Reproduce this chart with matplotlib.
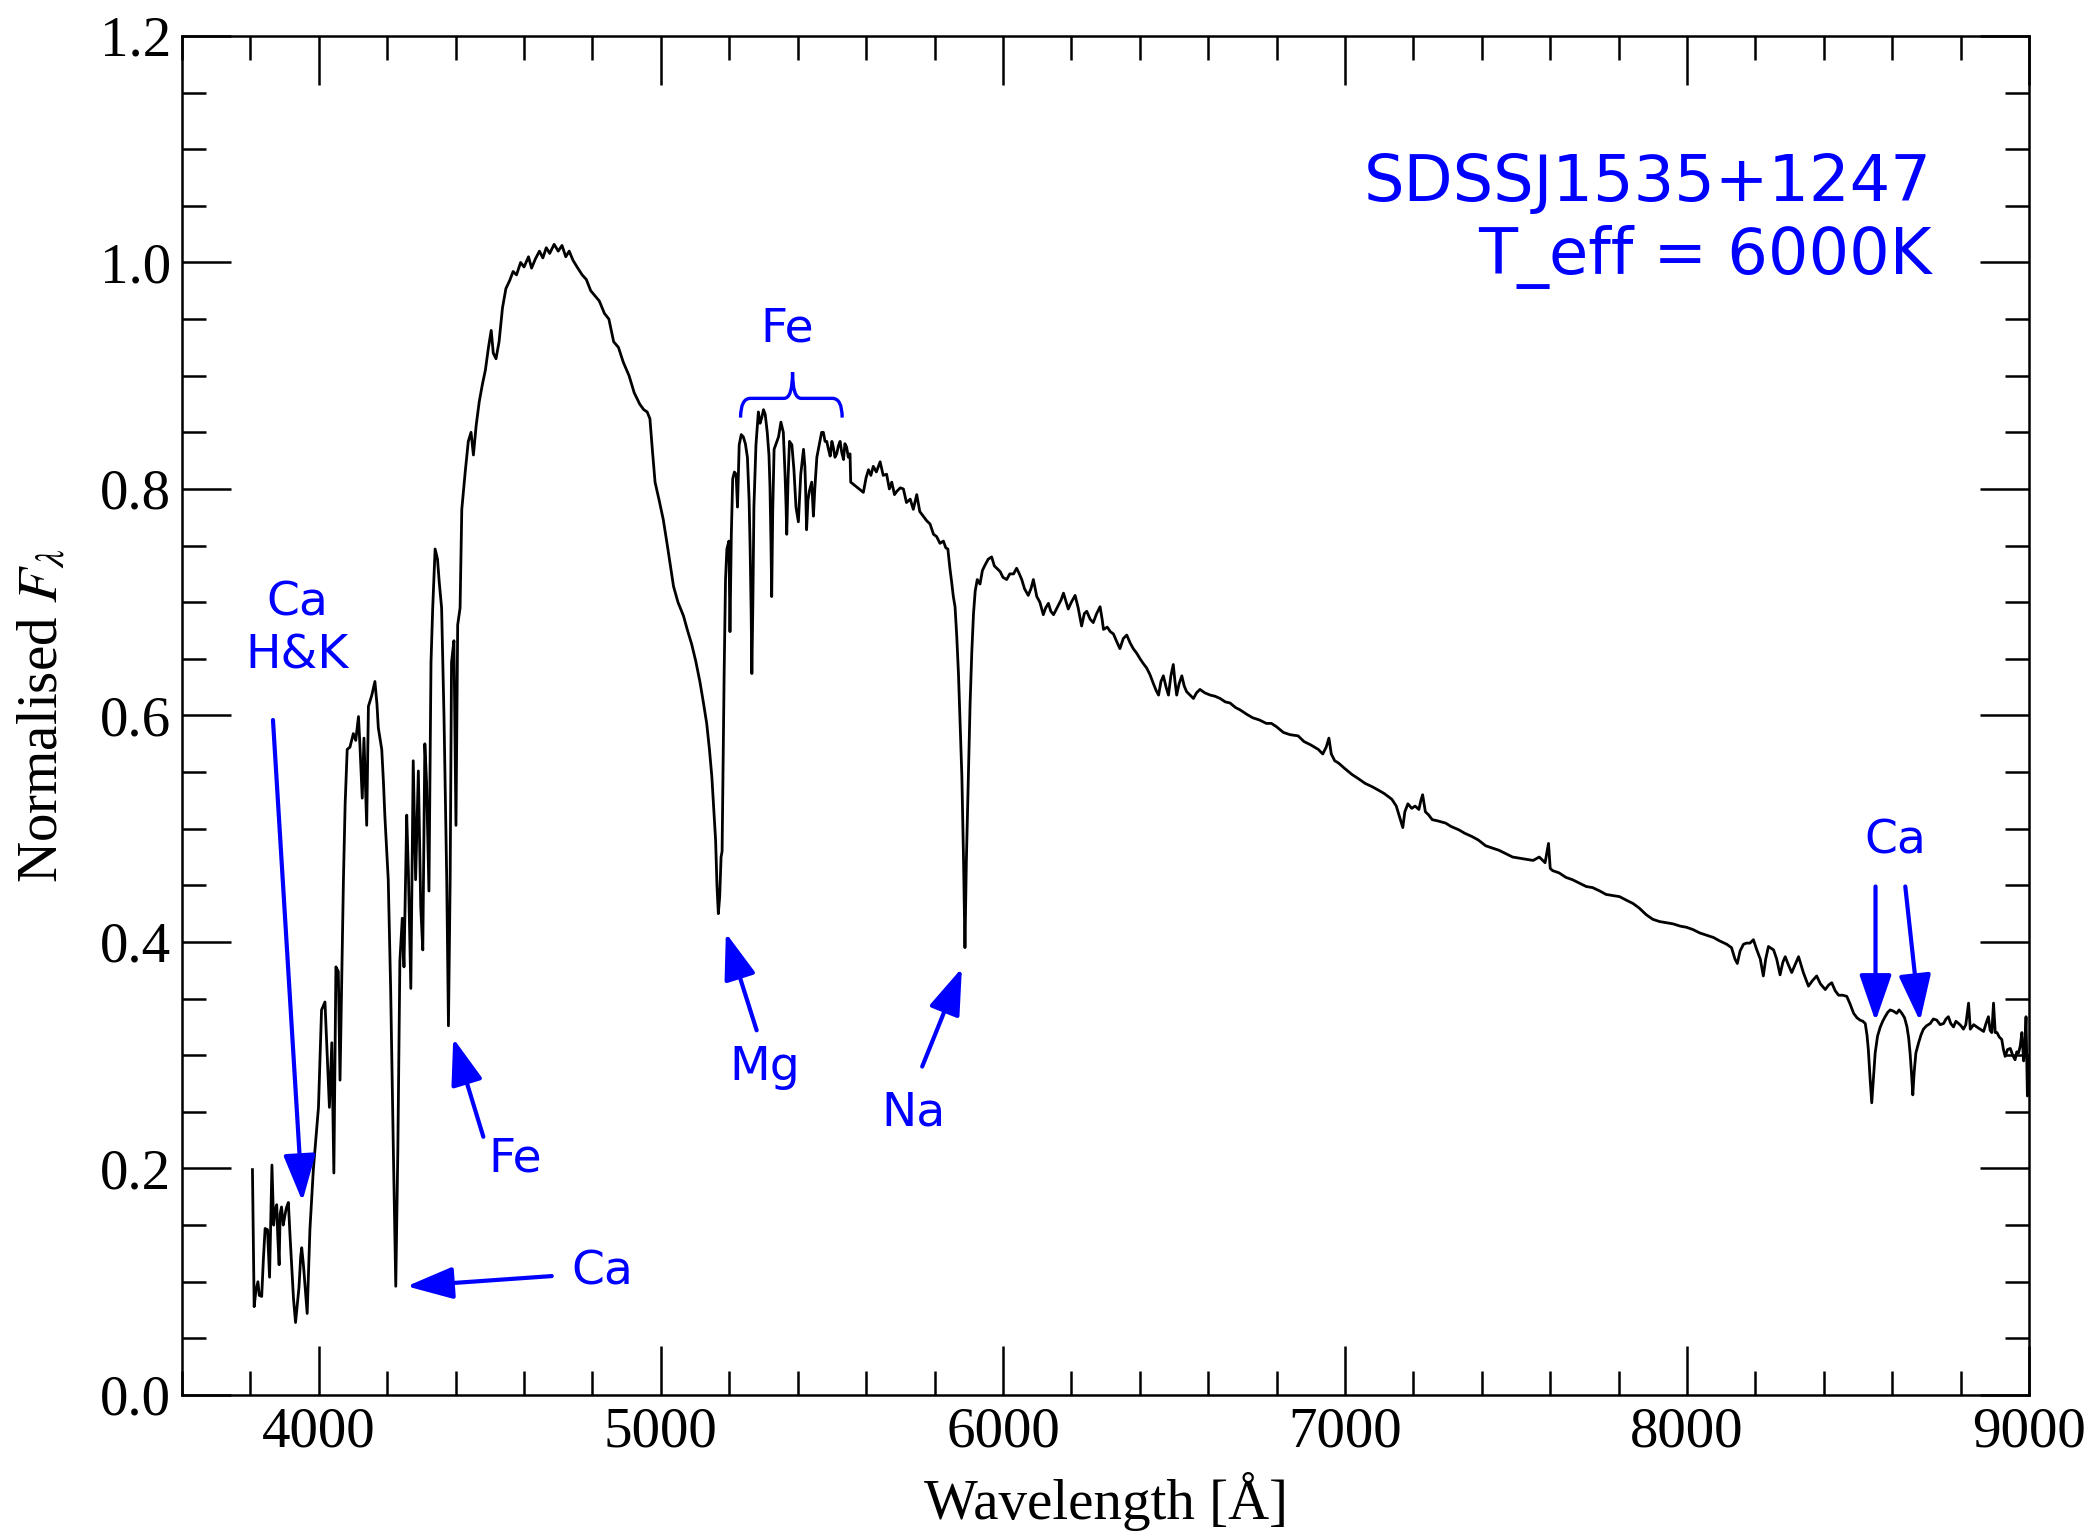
import numpy as np
import matplotlib
matplotlib.use("Agg")
import matplotlib.pyplot as plt
from matplotlib.path import Path
from matplotlib.patches import PathPatch
from matplotlib.ticker import MultipleLocator

plt.rcParams['mathtext.fontset'] = 'stix'

# spectrum: wavelength [A], normalised flux
wave = [3806, 3811, 3816, 3822, 3826, 3833, 3838, 3843, 3850, 3856, 3863, 3868, 3872, 3877, 3880,
        3884, 3887, 3891, 3896, 3900, 3905, 3911, 3916, 3921, 3926, 3932, 3937, 3942, 3947, 3950,
        3955, 3959, 3966, 3970, 3974, 3984, 3999, 4008, 4018, 4025, 4031, 4038, 4044, 4050, 4057,
        4062, 4067, 4072, 4077, 4083, 4091, 4101, 4108, 4116, 4120, 4127, 4132, 4140, 4145, 4155,
        4164, 4170, 4174, 4184, 4189, 4193, 4203, 4210, 4218, 4225, 4231, 4237, 4244, 4249, 4257,
        4262, 4269, 4276, 4283, 4291, 4298, 4304, 4310, 4315, 4322, 4328, 4333, 4340, 4347, 4352,
        4359, 4366, 4374, 4379, 4384, 4388, 4395, 4401, 4406, 4413, 4418, 4428, 4437, 4445, 4452,
        4460, 4469, 4478, 4487, 4496, 4504, 4510, 4518, 4527, 4537, 4547, 4558, 4568, 4578, 4590,
        4600, 4613, 4622, 4633, 4645, 4655, 4665, 4675, 4688, 4700, 4711, 4722, 4732, 4743, 4755,
        4770, 4782, 4795, 4809, 4820, 4835, 4848, 4862, 4876, 4890, 4907, 4922, 4938, 4950, 4960,
        4968, 4975, 4983, 4995, 5007, 5020, 5037, 5050, 5066, 5078, 5090, 5102, 5114, 5124, 5134,
        5142, 5149, 5155, 5160, 5164, 5168, 5172, 5176, 5179, 5182, 5185, 5189, 5193, 5199, 5202,
        5206, 5210, 5215, 5220, 5224, 5229, 5235, 5241, 5247, 5253, 5258, 5261, 5264, 5266, 5269,
        5272, 5278, 5285, 5290, 5295, 5300, 5305, 5311, 5316, 5319, 5322, 5324, 5327, 5331, 5337,
        5344, 5351, 5358, 5363, 5366, 5368, 5372, 5376, 5383, 5389, 5395, 5402, 5409, 5417, 5421,
        5423, 5426, 5430, 5434, 5441, 5446, 5450, 5456, 5465, 5470, 5475, 5480, 5485, 5490, 5495,
        5500, 5504, 5509, 5514, 5519, 5524, 5529, 5534, 5538, 5543, 5548, 5553, 5555, 5592, 5600,
        5607, 5614, 5621, 5630, 5641, 5650, 5660, 5668, 5675, 5683, 5690, 5700, 5709, 5718, 5729,
        5738, 5748, 5757, 5767, 5777, 5787, 5797, 5806, 5816, 5826, 5833, 5839, 5845, 5850, 5855,
        5860, 5865, 5870, 5875, 5880, 5885, 5889, 5893, 5899, 5904, 5909, 5914, 5919, 5925, 5933,
        5940, 5948, 5957, 5967, 5975, 5982, 5992, 6000, 6011, 6020, 6031, 6040, 6048, 6055, 6063,
        6074, 6082, 6089, 6099, 6108, 6118, 6125, 6133, 6140, 6148, 6160, 6170, 6177, 6185, 6191,
        6200, 6211, 6220, 6230, 6238, 6245, 6255, 6264, 6274, 6284, 6290, 6294, 6305, 6314, 6323,
        6333, 6342, 6352, 6362, 6372, 6381, 6391, 6401, 6410, 6420, 6430, 6440, 6448, 6455, 6462,
        6469, 6477, 6484, 6491, 6498, 6503, 6508, 6515, 6523, 6530, 6537, 6547, 6557, 6566, 6576,
        6590, 6606, 6620, 6635, 6650, 6664, 6680, 6693, 6713, 6730, 6750, 6770, 6785, 6800, 6820,
        6840, 6863, 6880, 6900, 6922, 6935, 6945, 6953, 6960, 6970, 6981, 7000, 7020, 7040, 7059,
        7080, 7098, 7115, 7137, 7150, 7160, 7169, 7175, 7184, 7195, 7205, 7216, 7222, 7227, 7235,
        7245, 7255, 7270, 7294, 7310, 7333, 7350, 7372, 7390, 7411, 7430, 7450, 7470, 7490, 7510,
        7529, 7550, 7568, 7585, 7595, 7600, 7607, 7626, 7646, 7665, 7685, 7705, 7724, 7745, 7763,
        7783, 7803, 7822, 7842, 7860, 7881, 7900, 7920, 7940, 7959, 7980, 7998, 8017, 8037, 8057,
        8077, 8095, 8116, 8130, 8140, 8147, 8155, 8165, 8174, 8184, 8194, 8204, 8214, 8223, 8230,
        8238, 8253, 8262, 8272, 8280, 8287, 8296, 8306, 8316, 8326, 8340, 8355, 8367, 8379, 8390,
        8404, 8414, 8423, 8433, 8443, 8455, 8467, 8477, 8487, 8497, 8506, 8514, 8521, 8526, 8530,
        8535, 8540, 8545, 8550, 8557, 8565, 8572, 8579, 8587, 8594, 8603, 8613, 8620, 8628, 8636,
        8643, 8648, 8652, 8656, 8660, 8664, 8669, 8677, 8684, 8691, 8700, 8711, 8720, 8730, 8740,
        8750, 8757, 8764, 8771, 8779, 8786, 8794, 8801, 8808, 8815, 8823, 8828, 8838, 8847, 8857,
        8867, 8874, 8881, 8886, 8891, 8896, 8901, 8906, 8913, 8920, 8925, 8930, 8937, 8945, 8952,
        8959, 8964, 8969, 8974, 8979, 8984, 8988, 8991, 8993, 8995, 8998]

flux = [0.199, 0.078, 0.092, 0.100, 0.088, 0.087, 0.120, 0.147, 0.146, 0.104, 0.203, 0.150, 0.163, 0.168, 0.140,
        0.115, 0.160, 0.166, 0.150, 0.157, 0.165, 0.170, 0.140, 0.113, 0.085, 0.064, 0.080, 0.095, 0.122, 0.130,
        0.115, 0.099, 0.072, 0.110, 0.146, 0.199, 0.254, 0.340, 0.347, 0.297, 0.254, 0.311, 0.196, 0.378, 0.374,
        0.278, 0.369, 0.455, 0.522, 0.570, 0.572, 0.584, 0.578, 0.599, 0.575, 0.527, 0.580, 0.503, 0.608, 0.618,
        0.630, 0.610, 0.589, 0.570, 0.541, 0.512, 0.455, 0.359, 0.215, 0.096, 0.215, 0.383, 0.421, 0.378, 0.512,
        0.460, 0.359, 0.560, 0.455, 0.551, 0.431, 0.393, 0.575, 0.541, 0.445, 0.647, 0.695, 0.747, 0.738, 0.718,
        0.695, 0.599, 0.455, 0.326, 0.455, 0.647, 0.666, 0.503, 0.680, 0.695, 0.782, 0.815, 0.842, 0.850, 0.830,
        0.856, 0.877, 0.892, 0.905, 0.925, 0.940, 0.920, 0.915, 0.930, 0.960, 0.977, 0.984, 0.992, 0.989, 1.000,
        0.996, 1.005, 0.995, 1.003, 1.010, 1.004, 1.013, 1.008, 1.016, 1.010, 1.015, 1.005, 1.010, 1.002, 0.996,
        0.989, 0.985, 0.975, 0.970, 0.966, 0.955, 0.950, 0.930, 0.925, 0.912, 0.900, 0.885, 0.875, 0.870, 0.868,
        0.862, 0.835, 0.806, 0.790, 0.773, 0.748, 0.714, 0.700, 0.688, 0.675, 0.663, 0.648, 0.630, 0.612, 0.593,
        0.570, 0.546, 0.515, 0.490, 0.450, 0.425, 0.440, 0.475, 0.480, 0.560, 0.637, 0.720, 0.747, 0.754, 0.674,
        0.760, 0.809, 0.815, 0.813, 0.784, 0.839, 0.848, 0.846, 0.840, 0.828, 0.790, 0.747, 0.690, 0.637, 0.700,
        0.784, 0.839, 0.868, 0.858, 0.863, 0.870, 0.866, 0.850, 0.830, 0.802, 0.750, 0.705, 0.780, 0.835, 0.840,
        0.846, 0.859, 0.850, 0.813, 0.785, 0.760, 0.810, 0.842, 0.839, 0.817, 0.784, 0.771, 0.813, 0.835, 0.820,
        0.802, 0.764, 0.790, 0.798, 0.806, 0.776, 0.800, 0.828, 0.842, 0.850, 0.850, 0.842, 0.842, 0.835, 0.829,
        0.842, 0.837, 0.828, 0.831, 0.838, 0.842, 0.832, 0.826, 0.840, 0.837, 0.828, 0.831, 0.806, 0.797, 0.810,
        0.817, 0.812, 0.820, 0.815, 0.824, 0.812, 0.813, 0.800, 0.806, 0.795, 0.798, 0.801, 0.800, 0.788, 0.791,
        0.782, 0.795, 0.780, 0.776, 0.772, 0.769, 0.760, 0.758, 0.752, 0.754, 0.748, 0.747, 0.730, 0.718, 0.705,
        0.696, 0.670, 0.637, 0.590, 0.546, 0.470, 0.395, 0.470, 0.546, 0.610, 0.656, 0.690, 0.710, 0.720, 0.716,
        0.728, 0.733, 0.738, 0.740, 0.732, 0.730, 0.727, 0.722, 0.720, 0.725, 0.725, 0.730, 0.725, 0.720, 0.712,
        0.706, 0.712, 0.720, 0.705, 0.700, 0.689, 0.695, 0.699, 0.692, 0.689, 0.696, 0.702, 0.708, 0.700, 0.694,
        0.700, 0.706, 0.695, 0.679, 0.690, 0.692, 0.685, 0.682, 0.690, 0.696, 0.685, 0.676, 0.678, 0.674, 0.672,
        0.665, 0.659, 0.668, 0.671, 0.664, 0.659, 0.655, 0.650, 0.646, 0.642, 0.636, 0.628, 0.622, 0.618, 0.630,
        0.635, 0.625, 0.618, 0.635, 0.645, 0.630, 0.618, 0.628, 0.635, 0.626, 0.621, 0.618, 0.615, 0.620, 0.623,
        0.620, 0.618, 0.617, 0.615, 0.612, 0.611, 0.607, 0.605, 0.601, 0.598, 0.596, 0.593, 0.593, 0.590, 0.585,
        0.583, 0.582, 0.577, 0.574, 0.570, 0.566, 0.572, 0.580, 0.566, 0.560, 0.558, 0.553, 0.548, 0.544, 0.540,
        0.537, 0.534, 0.531, 0.526, 0.520, 0.510, 0.501, 0.515, 0.522, 0.518, 0.520, 0.517, 0.525, 0.530, 0.515,
        0.512, 0.508, 0.507, 0.505, 0.502, 0.499, 0.496, 0.493, 0.490, 0.485, 0.483, 0.481, 0.478, 0.475, 0.474,
        0.473, 0.472, 0.475, 0.470, 0.487, 0.465, 0.463, 0.461, 0.457, 0.455, 0.452, 0.449, 0.448, 0.445, 0.442,
        0.441, 0.440, 0.437, 0.434, 0.430, 0.424, 0.420, 0.418, 0.417, 0.416, 0.414, 0.413, 0.411, 0.408, 0.406,
        0.404, 0.401, 0.398, 0.395, 0.385, 0.381, 0.392, 0.398, 0.399, 0.399, 0.402, 0.393, 0.385, 0.370, 0.385,
        0.396, 0.393, 0.385, 0.371, 0.382, 0.387, 0.380, 0.373, 0.380, 0.387, 0.373, 0.361, 0.366, 0.370, 0.363,
        0.358, 0.362, 0.364, 0.357, 0.353, 0.353, 0.352, 0.345, 0.337, 0.333, 0.331, 0.330, 0.328, 0.318, 0.305,
        0.280, 0.258, 0.280, 0.302, 0.317, 0.325, 0.330, 0.334, 0.338, 0.340, 0.339, 0.337, 0.340, 0.337, 0.333,
        0.325, 0.315, 0.302, 0.285, 0.265, 0.285, 0.302, 0.311, 0.318, 0.323, 0.326, 0.328, 0.332, 0.331, 0.327,
        0.328, 0.332, 0.334, 0.328, 0.325, 0.330, 0.328, 0.326, 0.323, 0.327, 0.346, 0.323, 0.327, 0.325, 0.323,
        0.321, 0.328, 0.334, 0.322, 0.320, 0.346, 0.320, 0.320, 0.316, 0.314, 0.305, 0.299, 0.305, 0.306, 0.300,
        0.296, 0.303, 0.302, 0.308, 0.320, 0.295, 0.310, 0.334, 0.300, 0.264, 0.299]

# line labels: text, text position, arrow tail, arrow tip
line_labels = [
    ("Ca\nH&K", (3937, 0.676), (3866, 0.596), (3952, 0.171)),
    ("Fe", (4574, 0.208), (4481, 0.228), (4393, 0.315)),
    ("Ca", (4829, 0.109), (4681, 0.105), (4257, 0.096)),
    ("Mg", (5305, 0.289), (5280, 0.322), (5190, 0.408)),
    ("Na", (5738, 0.249), (5764, 0.290), (5880, 0.377)),
]
ca_triplet_text = ("Ca", (8608, 0.489))
ca_triplet_arrows = [((8551, 0.449), (8551, 0.330)), ((8638, 0.449), (8681, 0.330))]

blue = '#0000ff'
serif = 'Liberation Serif'
sans = 'DejaVu Sans'

fig = plt.figure(figsize=(20.99, 15.36), dpi=100)
ax = fig.add_axes([0.0867, 0.0918, 0.88, 0.8848])

ax.plot(wave, flux, color='black', lw=2.0)

ax.set_xlim(3600, 9000)
ax.set_ylim(0.0, 1.2)
ax.xaxis.set_major_locator(MultipleLocator(1000))
ax.xaxis.set_minor_locator(MultipleLocator(200))
ax.yaxis.set_major_locator(MultipleLocator(0.2))
ax.yaxis.set_minor_locator(MultipleLocator(0.05))
ax.yaxis.set_major_formatter(plt.FormatStrFormatter('%.1f'))
ax.tick_params(which='both', direction='in', top=True, right=True, width=1.8, labelsize=41)
ax.tick_params(which='major', length=35, pad=8)
ax.tick_params(which='minor', length=17)
for lab in ax.get_xticklabels() + ax.get_yticklabels():
    lab.set_fontfamily(serif)
for sp in ax.spines.values():
    sp.set_linewidth(1.8)

ax.set_xlabel('Wavelength [Å]', fontsize=41, family=serif)
ax.set_ylabel(r'Normalised $F_\lambda$', fontsize=41, family=serif)
ax.xaxis.set_label_coords(0.5, -0.057)
ax.yaxis.set_label_coords(-0.061, 0.5)

arrow_kw = dict(arrowstyle='-|>, head_length=1.3, head_width=0.45', color=blue, lw=3,
                mutation_scale=22, shrinkA=0, shrinkB=0)

for text, txy, tail, tip in line_labels:
    ax.text(txy[0], txy[1], text, color=blue, fontsize=34, family=sans,
            ha='center', va='center', linespacing=1.25)
    ax.annotate('', xy=tip, xytext=tail, arrowprops=arrow_kw)

ax.text(ca_triplet_text[1][0], ca_triplet_text[1][1], ca_triplet_text[0], color=blue,
        fontsize=34, family=sans, ha='center', va='center')
for tail, tip in ca_triplet_arrows:
    ax.annotate('', xy=tip, xytext=tail, arrowprops=arrow_kw)

# Fe bracket over the 5230-5530 blend
verts = [(5233, 0.863), (5233, 0.880), (5262, 0.880), (5360, 0.880), (5385, 0.880), (5385, 0.903),
         (5385, 0.880), (5410, 0.880), (5501, 0.880), (5530, 0.880), (5530, 0.863)]
codes = [Path.MOVETO, Path.CURVE3, Path.CURVE3, Path.LINETO, Path.CURVE3, Path.CURVE3,
         Path.CURVE3, Path.CURVE3, Path.LINETO, Path.CURVE3, Path.CURVE3]
ax.add_patch(PathPatch(Path(verts, codes), fill=False, edgecolor=blue, lw=2.4))
ax.text(5368, 0.941, 'Fe', color=blue, fontsize=34, family=sans, ha='center', va='center')

ax.text(8714, 1.054, 'SDSSJ1535+1247', color=blue, fontsize=46, family=sans,
        ha='right', va='baseline')
ax.text(8714, 0.990, 'T_eff = 6000K', color=blue, fontsize=46, family=sans,
        ha='right', va='baseline')

fig.savefig('out.png', dpi=100)
